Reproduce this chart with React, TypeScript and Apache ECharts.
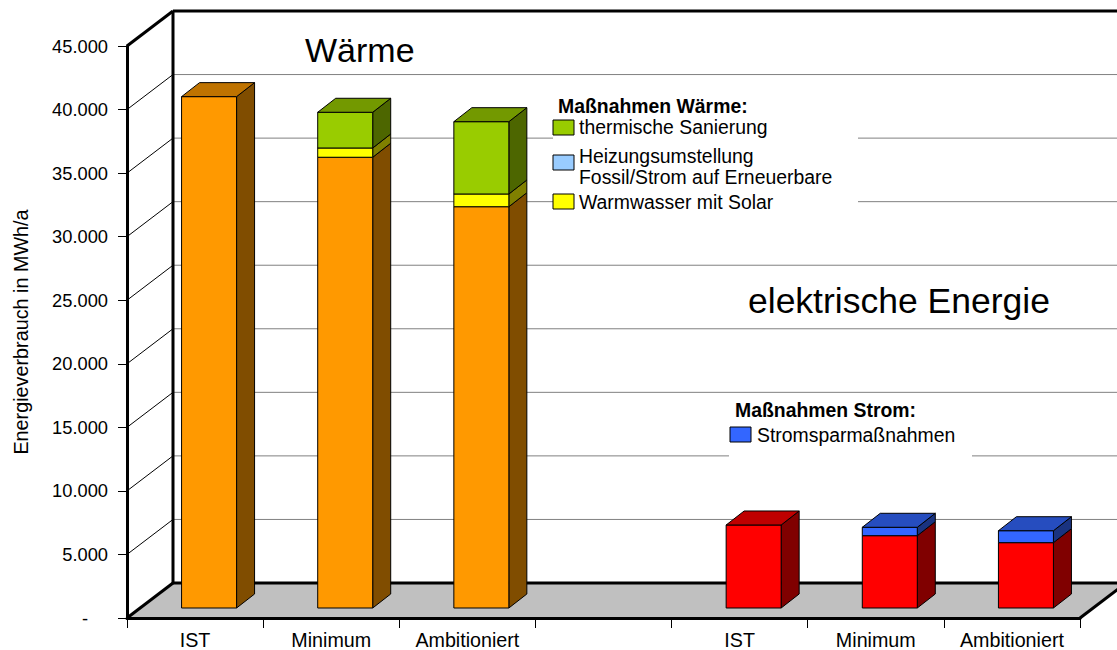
import { useEffect, useRef } from 'react';
import * as echarts from 'echarts';

const categories = ['IST', 'Minimum', 'Ambitioniert', '', 'IST', 'Minimum', 'Ambitioniert'];
const waermeVerbrauch = [40230, 35460, 31570, 0, 0, 0, 0];
const warmwasserSolar = [0, 730, 1000, 0, 0, 0, 0];
const heizungsumstellung = [0, 0, 0, 0, 0, 0, 0];
const thermischeSanierung = [0, 2810, 5690, 0, 0, 0, 0];
const stromVerbrauch = [0, 0, 0, 0, 6530, 5690, 5140];
const stromsparmassnahmen = [0, 0, 0, 0, 0, 660, 940];
const yTicks = [0, 5000, 10000, 15000, 20000, 25000, 30000, 35000, 40000, 45000];
const yTickLabels = ['-', '5.000', '10.000', '15.000', '20.000', '25.000', '30.000', '35.000', '40.000', '45.000'];

const FONT = "'Liberation Sans', Arial, Helvetica, sans-serif";
const DEPTH_DX = 46;
const DEPTH_DY = -35;
const FRONT_DX = 14;
const FRONT_DY = -10;
const SIDE_DX = 18;
const SIDE_DY = -14;
const BAR_RATIO = 0.404;
const LEGEND_FS = 19.4;

const stackSeries = [
  { name: 'Wärmeverbrauch', values: waermeVerbrauch, color: '#FF9900' },
  { name: 'Warmwasser mit Solar', values: warmwasserSolar, color: '#FFFF00' },
  { name: 'Heizungsumstellung Fossil/Strom auf Erneuerbare', values: heizungsumstellung, color: '#99CCFF' },
  { name: 'thermische Sanierung', values: thermischeSanierung, color: '#99CC00' },
  { name: 'Stromverbrauch', values: stromVerbrauch, color: '#FF0000' },
  { name: 'Stromsparmaßnahmen', values: stromsparmassnahmen, color: '#3366FF' },
];

function shade(hex: string, f: number): string {
  const n = parseInt(hex.slice(1), 16);
  const r = Math.round(((n >> 16) & 255) * f);
  const g = Math.round(((n >> 8) & 255) * f);
  const b = Math.round((n & 255) * f);
  return `rgb(${r},${g},${b})`;
}

function buildOption() {
  const n = categories.length;
  const bases: number[][] = [];
  const running = new Array(n).fill(0);
  stackSeries.forEach((s) => {
    bases.push(running.slice());
    s.values.forEach((v, i) => (running[i] += v || 0));
  });
  const topIndex = categories.map((_, i) => {
    let t = -1;
    stackSeries.forEach((s, si) => {
      if ((s.values[i] || 0) > 0) t = si;
    });
    return t;
  });

  const wallSeries: any = {
    type: 'custom',
    name: 'walls',
    z: 1,
    silent: true,
    data: [[0, 0]],
    encode: { x: 0, y: 1 },
    renderItem: (params: any, api: any) => {
      const cs = params.coordSys;
      const x0 = cs.x;
      const x1 = cs.x + cs.width;
      const yT = cs.y;
      const yB = cs.y + cs.height;
      const D = DEPTH_DX;
      const E = DEPTH_DY;
      const children: any[] = [];
      children.push({ type: 'rect', shape: { x: x0 + D, y: yT + E, width: x1 - x0, height: yB - yT }, style: { fill: '#ffffff' } });
      children.push({ type: 'polygon', shape: { points: [[x0, yT], [x0 + D, yT + E], [x0 + D, yB + E], [x0, yB]] }, style: { fill: '#ffffff' } });
      children.push({ type: 'polygon', shape: { points: [[x0, yB], [x1, yB], [x1 + D, yB + E], [x0 + D, yB + E]] }, style: { fill: '#C0C0C0' } });
      yTicks.forEach((v) => {
        if (v <= yTicks[0] || v >= yTicks[yTicks.length - 1]) return;
        const y = api.coord([0, v])[1];
        children.push({ type: 'line', shape: { x1: x0 + D, y1: y + E, x2: x1 + D, y2: y + E }, style: { stroke: '#808080', lineWidth: 1 } });
        children.push({ type: 'line', shape: { x1: x0, y1: y, x2: x0 + D, y2: y + E }, style: { stroke: '#000000', lineWidth: 1 } });
      });
      const thick = { stroke: '#000000', lineWidth: 3 };
      children.push({ type: 'line', shape: { x1: x0 + D, y1: yT + E, x2: x0 + D, y2: yB + E }, style: thick });
      children.push({ type: 'line', shape: { x1: x0 + D, y1: yT + E, x2: x1 + D, y2: yT + E }, style: thick });
      children.push({ type: 'line', shape: { x1: x0 + D, y1: yB + E, x2: x1 + D, y2: yB + E }, style: thick });
      children.push({ type: 'line', shape: { x1: x0, y1: yT, x2: x0 + D, y2: yT + E }, style: thick });
      children.push({ type: 'line', shape: { x1: x0, y1: yB, x2: x0 + D, y2: yB + E }, style: thick });
      children.push({ type: 'line', shape: { x1: x1, y1: yB, x2: x1 + D, y2: yB + E }, style: thick });
      return { type: 'group', children };
    },
  };

  const barSeries = stackSeries.map((s, si) => ({
    type: 'custom',
    name: s.name,
    z: 2,
    itemStyle: { color: s.color, borderColor: '#000' },
    encode: { x: 0, y: 2 },
    data: categories.map((_, i) => [i, bases[si][i], bases[si][i] + (s.values[i] || 0), topIndex[i] === si ? 1 : 0]),
    renderItem: (params: any, api: any) => {
      const i = api.value(0);
      const base = api.value(1);
      const top = api.value(2);
      const isTop = api.value(3);
      if (!(top > base)) return { type: 'group', children: [] };
      const pb = api.coord([i, base]);
      const pt = api.coord([i, top]);
      const w = api.size([1, 0])[0] * BAR_RATIO;
      const xl = pb[0] + FRONT_DX - w / 2;
      const xr = xl + w;
      const yb = pb[1] + FRONT_DY;
      const yt = pt[1] + FRONT_DY;
      const stroke = { stroke: '#000000', lineWidth: 1, lineJoin: 'miter' };
      const children: any[] = [
        { type: 'polygon', shape: { points: [[xr, yt], [xr + SIDE_DX, yt + SIDE_DY], [xr + SIDE_DX, yb + SIDE_DY], [xr, yb]] }, style: { fill: shade(s.color, 0.5), ...stroke } },
        { type: 'rect', shape: { x: xl, y: yt, width: w, height: yb - yt }, style: { fill: s.color, ...stroke } },
      ];
      if (isTop) {
        children.push({ type: 'polygon', shape: { points: [[xl, yt], [xl + SIDE_DX, yt + SIDE_DY], [xr + SIDE_DX, yt + SIDE_DY], [xr, yt]] }, style: { fill: shade(s.color, 0.75), ...stroke } });
      }
      return { type: 'group', children };
    },
  }));

  const txt = (text: string, x: number, y: number, size: number, bold = false, z = 20) => ({
    type: 'text',
    z,
    style: {
      text,
      x,
      y,
      fill: '#000',
      fontSize: size,
      fontFamily: FONT,
      fontWeight: bold ? 'bold' : 'normal',
      align: 'left',
      verticalAlign: 'middle',
      textAlign: 'left',
      textVerticalAlign: 'middle',
    },
  });
  const icon = (x: number, y: number, color: string) => ({
    type: 'rect',
    z: 20,
    shape: { x, y, width: 21, height: 15 },
    style: { fill: color, stroke: '#000', lineWidth: 1 },
  });

  const graphic: any[] = [
    txt('Wärme', 305, 50, 34),
    txt('elektrische Energie', 748, 301, 35.5),
    { type: 'rect', z: 15, shape: { x: 553, y: 90, width: 305, height: 125 }, style: { fill: '#fff' } },
    txt('Maßnahmen Wärme:', 558, 106, LEGEND_FS, true),
    icon(553, 120, stackSeries[3].color),
    txt('thermische Sanierung', 579, 127, LEGEND_FS),
    icon(553, 155, stackSeries[2].color),
    txt('Heizungsumstellung', 579, 156, LEGEND_FS),
    txt('Fossil/Strom auf Erneuerbare', 579, 177, LEGEND_FS),
    icon(553, 194, stackSeries[1].color),
    txt('Warmwasser mit Solar', 579, 202, LEGEND_FS),
    { type: 'rect', z: 15, shape: { x: 729, y: 395, width: 243, height: 70 }, style: { fill: '#fff' } },
    txt('Maßnahmen Strom:', 735, 410, LEGEND_FS, true),
    icon(730, 427, stackSeries[5].color),
    txt('Stromsparmaßnahmen', 757, 435, LEGEND_FS),
  ];

  return {
    animation: false,
    backgroundColor: '#ffffff',
    grid: { left: 127, right: 37, top: 46, bottom: 32, containLabel: false },
    xAxis: {
      type: 'category',
      data: categories,
      z: 5,
      axisLine: { show: true, lineStyle: { color: '#000', width: 3 } },
      axisTick: { show: true, interval: 0, length: 10, lineStyle: { color: '#000', width: 1 } },
      axisLabel: { interval: 0, margin: 12, fontSize: 19.7, color: '#000', fontFamily: FONT },
      splitLine: { show: false },
    },
    yAxis: {
      type: 'value',
      min: 0,
      max: 45000,
      interval: 5000,
      z: 5,
      name: 'Energieverbrauch in MWh/a',
      nameLocation: 'middle',
      nameGap: 96,
      nameTextStyle: { fontSize: 19.8, color: '#000', fontFamily: FONT },
      axisLine: { show: true, lineStyle: { color: '#000', width: 3 } },
      axisTick: { show: true, length: 9, lineStyle: { color: '#000', width: 1 } },
      axisLabel: {
        margin: 19,
        fontSize: 18.3,
        color: '#000',
        fontFamily: FONT,
        formatter: (v: number) => {
          const idx = yTicks.indexOf(v);
          const lbl = idx >= 0 ? yTickLabels[idx] : String(v);
          return v === 0 ? '{dash|' + lbl + '}' : lbl;
        },
        rich: { dash: { fontSize: 18.3, color: '#000', fontFamily: FONT, padding: [0, 20, 0, 0] } },
      },
      splitLine: { show: false },
    },
    series: [wallSeries, ...barSeries],
    graphic,
  };
}

export default function App() {
  const ref = useRef<HTMLDivElement>(null);
  useEffect(() => {
    if (!ref.current) return;
    const chart = echarts.init(ref.current, undefined, { renderer: 'svg' });
    chart.setOption(buildOption() as any);
    return () => chart.dispose();
  }, []);
  return <div ref={ref} style={{ position: 'absolute', left: 0, top: 0, width: 1117, height: 650 }} />;
}
